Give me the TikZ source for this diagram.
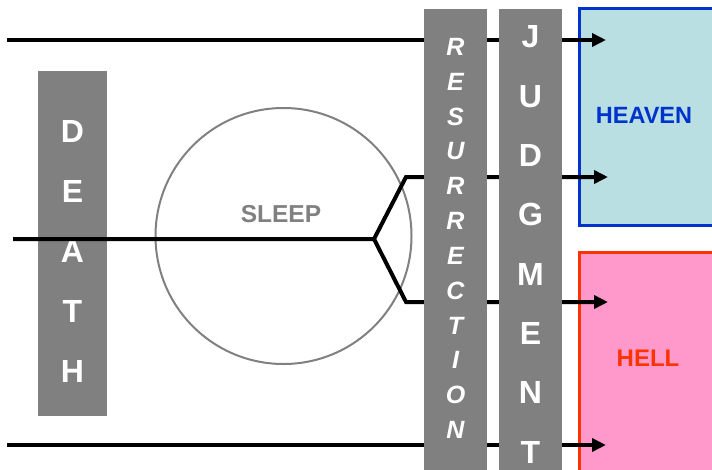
\documentclass[tikz,border=0pt]{standalone}
\usepackage{fontspec}
\setmainfont{Liberation Sans}
\usetikzlibrary{arrows.meta,positioning,calc}
\definecolor{bargray}{HTML}{808080}
\definecolor{heavenfill}{HTML}{B9DFE3}
\definecolor{heavenblue}{HTML}{0033CC}
\definecolor{hellfill}{HTML}{FF99CC}
\definecolor{hellred}{HTML}{FF3300}

\begin{document}
\begin{tikzpicture}[x=1pt,y=-1pt,
  bar/.style={fill=bargray,inner sep=0pt,anchor=north},
  bigletter/.style={text=white,font=\fontsize{32}{32}\selectfont\bfseries,inner sep=0pt},
  slantletter/.style={text=white,font=\fontsize{25}{25}\selectfont\bfseries\itshape,inner sep=0pt},
  place/.style={anchor=north west,line width=3.4pt,inner sep=0pt,minimum width=150pt},
  lifeline/.style={line width=4pt,line join=miter},
  goes/.style={lifeline,-{Triangle[length=14pt,width=13pt]}}]
  \clip (0,0) rectangle (712,469);

  % destinations
  \node[place,fill=heavenfill,draw=heavenblue,minimum height=217pt] (heaven) at (578,7) {};
  \node[place,fill=hellfill,draw=hellred,minimum height=230pt] (hell) at (578,251) {};
  \node[text=heavenblue,font=\fontsize{23.5}{24}\selectfont\bfseries] (heavenname) at (644,115) {HEAVEN};
  \node[text=hellred,font=\fontsize{24}{24}\selectfont\bfseries] (hellname) at (648,358) {HELL};

  % sleep of the dead
  \node[circle,draw=bargray,line width=2pt,minimum size=256pt] (sleep) at (283.5,236) {};
  \node[text=bargray,font=\fontsize{24.5}{25}\selectfont\bfseries] (sleepname) at (281,214) {SLEEP};
  \node[bar,minimum width=69pt,minimum height=345pt] (death) at (72.5,71) {};
  \foreach \ch [count=\i] in {D,E,A,T,H}
    \node[bigletter] (death-\i) at ([yshift={-60*\i}]death.north) {\ch};

  % the lines of life
  \coordinate (topin) at (7,40);    \coordinate (topout) at (606,40);
  \coordinate (lowin) at (7,445);   \coordinate (lowout) at (606,445);
  \coordinate (midin) at (13,239);  \coordinate (fork) at (374,239);
  \coordinate (upbend) at (406,177);   \coordinate (upout) at (608,177);
  \coordinate (downbend) at (406,302); \coordinate (downout) at (608,302);
  \draw[goes] (topin) -- (topout);
  \draw[goes] (lowin) -- (lowout);
  \draw[goes] (midin) -- (fork) -- (upbend) -- (upout);
  \draw[goes] (fork) -- (downbend) -- (downout);

  % the bars in front
  \node[bar,minimum width=63pt,minimum height=470pt] (resurrection) at (455.5,9) {};
  \node[bar,minimum width=63pt,minimum height=470pt] (judgment) at (530.5,9) {};
  \foreach \ch [count=\i] in {R,E,S,U,R,R,E,C,T,I,O,N}
    \node[slantletter] (resurrection-\i) at ([yshift={-(38+34.8*(\i-1))}]resurrection.north) {\ch};
  \foreach \ch [count=\i] in {J,U,D,G,M,E,N,T}
    \node[bigletter] (judgment-\i) at ([yshift={-(28+59.3*(\i-1))}]judgment.north) {\ch};
\end{tikzpicture}
\end{document}
